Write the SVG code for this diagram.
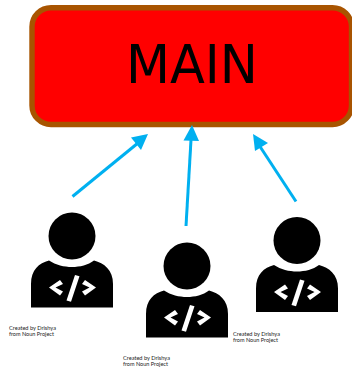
<svg xmlns="http://www.w3.org/2000/svg" width="352" height="368" viewBox="0 0 352 368">
<style>
.conn{stroke:#00b0f0;stroke-width:3;fill:none}
.head{fill:#00b0f0;stroke:none}
.credit{font-family:"Lato","Liberation Sans",sans-serif;font-size:5.2px;fill:#222}
.w{fill:#fff}
</style>
<defs>
<g id="person">
<circle cx="48" cy="36" r="23.500"/>
<path d="M25 60.500C32 65 40 67 48 67C56 67 64 65 70 60.500C80 63 89 70 89 84V107.500H7V84C7 70 15 63 25 60.500Z"/>
<path class="w" d="M51 75L55.500 76.200L47 101.800L42.500 100.500Z"/>
<path class="w" d="M36 80L39 84L31.500 87.500L39 91.500L36 95.500L25 87.500Z"/>
<path class="w" d="M61 80L58 84L65.500 87.500L58 91.500L61 95.500L72 87.500Z"/>
</g>
</defs>
<rect width="352" height="368" fill="#fff"/>
<g id="main">
<rect x="32" y="7.700" width="319.500" height="116.800" rx="19" ry="19" fill="#ff0000" stroke="#a85400" stroke-width="5.400"/>
<text x="192" y="83" font-family="'DejaVu Sans',sans-serif" font-size="53" text-anchor="middle" fill="#000" textLength="132" lengthAdjust="spacingAndGlyphs">MAIN</text>
</g>
<g id="connectors">
<line class="conn" x1="72.500" y1="196.500" x2="138" y2="143"/>
<polygon class="head" points="148,134 131,137.500 141,150"/>
<line class="conn" x1="186" y1="226" x2="191" y2="140"/>
<polygon class="head" points="192,125 183.500,140.500 199,141"/>
<line class="conn" x1="296" y1="201.500" x2="259" y2="145"/>
<polygon class="head" points="253,134 255,151 268,143"/>
</g>
<g id="dev1"><use href="#person" x="24" y="200"/><text class="credit" x="9" y="329.500" textLength="47" lengthAdjust="spacingAndGlyphs">Created by Drishya</text><text class="credit" x="9" y="335.500" textLength="45" lengthAdjust="spacingAndGlyphs">from Noun Project</text></g>
<g id="dev2"><use href="#person" x="139" y="230"/><text class="credit" x="123" y="359.500" textLength="47" lengthAdjust="spacingAndGlyphs">Created by Drishya</text><text class="credit" x="123" y="365.500" textLength="45" lengthAdjust="spacingAndGlyphs">from Noun Project</text></g>
<g id="dev3"><use href="#person" x="249" y="204.500"/><text class="credit" x="233" y="335.500" textLength="47" lengthAdjust="spacingAndGlyphs">Created by Drishya</text><text class="credit" x="233" y="341.500" textLength="45" lengthAdjust="spacingAndGlyphs">from Noun Project</text></g>
</svg>
